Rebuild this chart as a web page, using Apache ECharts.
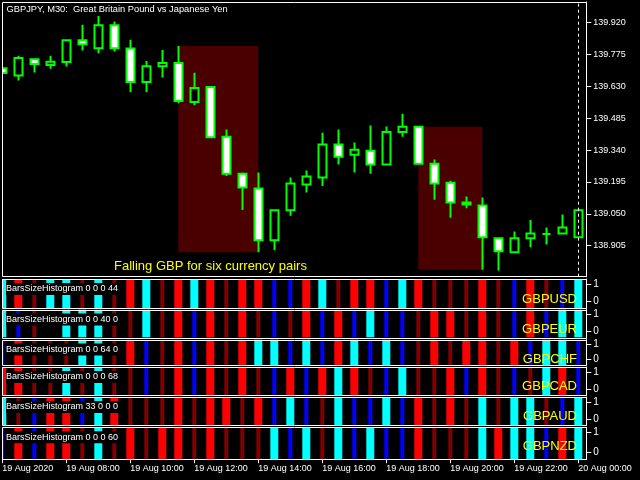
<!DOCTYPE html>
<html><head><meta charset="utf-8">
<script src="https://cdn.jsdelivr.net/npm/echarts@6/dist/echarts.min.js"></script>
<style>html,body{margin:0;padding:0;background:#000;}#c{width:640px;height:480px;}</style>
</head><body><div id="c"></div>
<script>
// ---------- data ----------
const categories = ['19 Aug 06:00','19 Aug 06:30','19 Aug 07:00','19 Aug 07:30','19 Aug 08:00','19 Aug 08:30','19 Aug 09:00','19 Aug 09:30',
 '19 Aug 10:00','19 Aug 10:30','19 Aug 11:00','19 Aug 11:30','19 Aug 12:00','19 Aug 12:30','19 Aug 13:00','19 Aug 13:30',
 '19 Aug 14:00','19 Aug 14:30','19 Aug 15:00','19 Aug 15:30','19 Aug 16:00','19 Aug 16:30','19 Aug 17:00','19 Aug 17:30',
 '19 Aug 18:00','19 Aug 18:30','19 Aug 19:00','19 Aug 19:30','19 Aug 20:00','19 Aug 20:30','19 Aug 21:00','19 Aug 21:30',
 '19 Aug 22:00','19 Aug 22:30','19 Aug 23:00','19 Aug 23:30','20 Aug 00:00'];
const tickLabels = ['19 Aug 2020','19 Aug 08:00','19 Aug 10:00','19 Aug 12:00','19 Aug 14:00','19 Aug 16:00','19 Aug 18:00','19 Aug 20:00','19 Aug 22:00','20 Aug 00:00'];
const openP  = [139.713,139.680,139.754,139.727,139.741,139.840,139.804,139.908,139.802,139.650,139.722,139.736,139.559,139.627,139.401,139.233,139.165,138.930,139.066,139.183,139.215,139.365,139.319,139.337,139.274,139.423,139.446,139.278,139.192,139.102,139.088,138.939,138.875,138.939,138.958,138.961,138.943];
const closeP = [139.691,139.759,139.732,139.742,139.840,139.822,139.908,139.804,139.650,139.722,139.736,139.564,139.623,139.399,139.233,139.170,138.930,139.066,139.188,139.220,139.365,139.310,139.342,139.274,139.423,139.446,139.278,139.188,139.102,139.093,138.943,138.880,138.939,138.961,138.958,138.988,139.066];
const lowP   = [139.688,139.657,139.693,139.710,139.721,139.793,139.781,139.789,139.603,139.603,139.671,139.553,139.544,139.394,139.222,139.068,138.875,138.884,139.041,139.147,139.177,139.274,139.238,139.233,139.274,139.401,139.278,139.114,139.032,139.075,138.796,138.792,138.875,138.898,138.911,138.961,138.943];
const highP  = [139.715,139.769,139.757,139.769,139.840,139.910,139.950,139.925,139.842,139.746,139.796,139.814,139.692,139.627,139.434,139.238,139.238,139.071,139.215,139.247,139.419,139.434,139.375,139.452,139.447,139.506,139.446,139.297,139.201,139.129,139.124,138.943,138.970,139.022,138.988,139.047,139.066];
const priceTicks = [138.905,139.050,139.195,139.340,139.485,139.630,139.775,139.920];
const zoneStart = [11, 26];
const zoneEnd = [16, 30];
const zoneTop = [139.814, 139.446];
const zoneBottom = [138.875, 138.796];
// histogram classes: C strong up, B weak up, R strong down, D weak down, N none
const gbpusd = ['C','R','D','C','C','D','C','D','R','C','D','R','C','R','D','R','R','B','B','R','C','D','R','R','B','C','R','D','D','D','R','D','B','R','D','B','C'];
const gbpeur = ['C','B','D','N','C','C','C','D','D','C','D','R','B','R','D','R','D','B','D','R','B','R','B','C','B','B','D','R','R','D','R','D','B','R','B','C','C'];
const gbpchf = ['B','R','D','D','D','C','C','D','R','B','D','R','B','R','D','R','C','C','B','C','B','R','C','B','C','B','D','R','D','R','R','D','R','B','C','C','B'];
const gbpcad = ['R','R','D','D','C','D','C','D','D','B','D','R','B','R','D','R','D','B','R','B','R','C','R','D','B','C','D','D','R','B','R','D','B','D','C','R','B'];
const gbpaud = ['C','D','B','R','R','B','C','R','D','D','D','R','D','R','R','D','R','B','C','B','D','C','B','B','C','B','R','D','R','D','C','D','C','C','D','B','C'];
const gbpnzd = ['B','R','B','R','R','D','C','D','R','D','R','R','D','R','D','D','D','C','B','C','D','C','B','C','B','B','R','D','D','D','C','R','C','C','B','R','C'];
const paneNames = ['GBPUSD','GBPEUR','GBPCHF','GBPCAD','GBPAUD','GBPNZD'];
const paneTitles = ['BarsSizeHistogram 0 0 0 44','BarsSizeHistogram 0 0 40 0','BarsSizeHistogram 0 0 64 0','BarsSizeHistogram 0 0 0 68','BarsSizeHistogram 33 0 0 0','BarsSizeHistogram 0 0 0 60'];
const paneData = [gbpusd, gbpeur, gbpchf, gbpcad, gbpaud, gbpnzd];
const paneTicks = [0, 1];

// ---------- layout / style ----------
const SANS = '"Liberation Sans",Arial,sans-serif';
const SMALL = 9;
const STYLE = {C:{color:'#00ffff', w:8}, R:{color:'#ff0000', w:8}, B:{color:'#0000ff', w:4}, D:{color:'#800000', w:4}};
const GL = -5.7, GW = 592;
const panes = [
 {top:279, bottom:308, y1:284.3, y0:301.7, nameY:299},
 {top:309.5, bottom:337.5, y1:314.3, y0:331, nameY:329.3},
 {top:339.5, bottom:365.2, y1:344.3, y0:359, nameY:359},
 {top:367, bottom:395.2, y1:372.3, y0:389.3, nameY:386.7},
 {top:397, bottom:425.2, y1:402.7, y0:419.3, nameY:416.7},
 {top:427.3, bottom:459.2, y1:432, y0:452.7, nameY:446.7}
];

const grids = [{left:GL, width:GW, top:2, height:274.7, outerBoundsMode:'none', containLabel:false}];
const xAxes = [{gridIndex:0, type:'category', data:categories, boundaryGap:true, axisLine:{show:false}, axisTick:{show:false}, axisLabel:{show:false}, splitLine:{show:false}}];
const yAxes = [{gridIndex:0, type:'value', position:'right', min:138.764, max:140.014, scale:true,
  axisLine:{show:true, lineStyle:{color:'#fff'}},
  axisTick:{show:true, length:5, lineStyle:{color:'#fff'}, customValues:priceTicks},
  axisLabel:{show:true, color:'#fff', margin:7, fontFamily:SANS, fontSize:SMALL, customValues:priceTicks, formatter:v=>v.toFixed(3)},
  splitLine:{show:false}}];
const series = [
 {type:'line', xAxisIndex:0, yAxisIndex:0, data:categories.map(()=>'-'), z:1, silent:true, symbol:'none',
  markArea:{silent:true, itemStyle:{color:'#4b0000', opacity:1},
   data: zoneStart.map((s,k)=>[{xAxis:categories[s], yAxis:zoneTop[k]},{xAxis:categories[zoneEnd[k]], yAxis:zoneBottom[k]}])}},
 {type:'candlestick', xAxisIndex:0, yAxisIndex:0, z:3, barWidth:9,
  data: categories.map((c,i)=>[openP[i], closeP[i], lowP[i], highP[i]]),
  itemStyle:{color:'#000000', color0:'#ffffff', borderColor:'#00ff00', borderColor0:'#00ff00', borderColorDoji:'#00ff00', borderWidth:2},
  markLine:{silent:true, symbol:'none', label:{show:false}, lineStyle:{color:'#ffffff', type:[3,3], width:1},
   data:[{xAxis:categories[36]}]}}
];

panes.forEach((p, k) => {
  const g = k + 1;
  grids.push({left:GL, width:GW, top:p.top, height:p.bottom - p.top, outerBoundsMode:'none', containLabel:false});
  const last = k === panes.length - 1;
  xAxes.push({gridIndex:g, type:'category', data:categories, boundaryGap:true,
    axisLine:{show:last, lineStyle:{color:'#fff'}},
    axisTick:{show:last, alignWithLabel:true, interval:3, length:4, lineStyle:{color:'#fff'}},
    axisLabel:{show:last, interval:3, showMaxLabel:true, hideOverlap:false, color:'#fff', align:'left', margin:5, fontFamily:SANS, fontSize:SMALL,
      formatter:(v, idx)=> tickLabels[Math.round(idx/4)]},
    splitLine:{show:false}});
  yAxes.push({gridIndex:g, type:'value', min:0, max:1, show:false});
  const unit = p.y0 - p.y1;
  const mx = 1 + (p.y1 - p.top) / unit;
  const mn = -(p.bottom - p.y0) / unit;
  yAxes.push({gridIndex:g, type:'value', position:'right', min:mn, max:mx,
    axisLine:{show:true, lineStyle:{color:'#fff'}},
    axisTick:{show:true, length:5, lineStyle:{color:'#fff'}, customValues:paneTicks},
    axisLabel:{show:true, color:'#fff', margin:7, fontFamily:SANS, fontSize:10, customValues:paneTicks, formatter:v=>String(Math.round(v))},
    splitLine:{show:false}});
  const arr = paneData[k];
  series.push({type:'custom', xAxisIndex:g, yAxisIndex:2*k+1, clip:true, silent:true, z:2,
    data: arr.map((c,i)=>[i, 1]),
    renderItem:(params, api)=>{
      const st = STYLE[arr[params.dataIndex]];
      if (!st) return null;
      const i = api.value(0);
      const t = api.coord([i, 1]);
      const b = api.coord([i, 0]);
      return {type:'rect', shape:{x:t[0]-st.w/2, y:t[1], width:st.w, height:b[1]-t[1]}, style:{fill:st.color}};
    }});
});

// ---------- decorations ----------
const graphic = [];
graphic.push({type:'rect', z:50, shape:{x:0, y:0, width:2, height:480}, style:{fill:'#000'}});
graphic.push({type:'rect', z:60, shape:{x:2.5, y:2.5, width:584, height:274}, style:{fill:'none', stroke:'#fff', lineWidth:1}});
panes.forEach((p,k)=>{
  const t = Math.round(p.top), b = Math.round(p.bottom);
  graphic.push({type:'rect', z:60, shape:{x:2.5, y:t+0.5, width:584, height:b-t}, style:{fill:'none', stroke:'#fff', lineWidth:1}});
  graphic.push({type:'text', z:70, x:6, y:p.top+10, style:{text:paneTitles[k], fill:'#fff', font:'9px '+SANS, verticalAlign:'middle', backgroundColor:'#000', padding:[2,4,1,0]}});
  graphic.push({type:'text', z:70, x:577, y:p.nameY, style:{text:paneNames[k], fill:'#ffff00', font:'13px '+SANS, align:'right', verticalAlign:'middle'}});
});
graphic.push({type:'text', z:70, x:6.5, y:9.5, style:{text:'GBPJPY, M30:  Great Britain Pound vs Japanese Yen', fill:'#fff', font:'9.3px '+SANS, verticalAlign:'middle'}});
graphic.push({type:'text', z:70, x:114, y:266, style:{text:'Falling GBP for six currency pairs', fill:'#ffff00', font:'13px '+SANS, verticalAlign:'middle'}});

const chart = echarts.init(document.getElementById('c'), null, {renderer:'canvas'});
chart.setOption({
  animation:false,
  backgroundColor:'#000',
  textStyle:{fontFamily:SANS},
  grid:grids, xAxis:xAxes, yAxis:yAxes, series:series, graphic:graphic
});
</script></body></html>
